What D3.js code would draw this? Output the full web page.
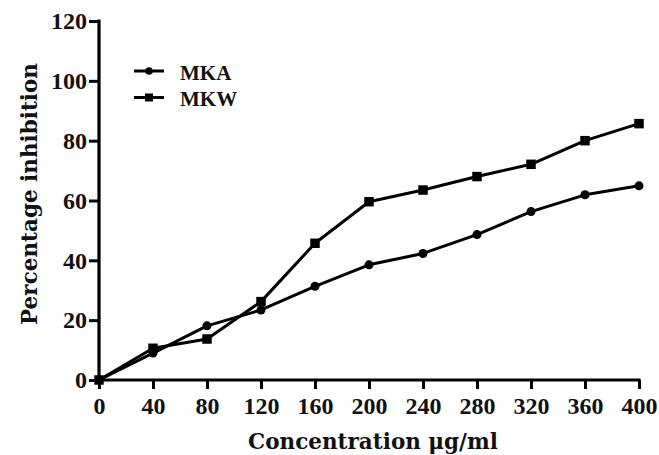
<!DOCTYPE html>
<html>
<head>
<meta charset="utf-8">
<script src="https://cdn.jsdelivr.net/npm/d3@7"></script>
<style>
  body { margin: 0; background: #fff; }
  svg { display: block; }
  text { font-weight: bold; fill: #111; }
  .title { font-family: "DejaVu Serif", serif; }
  .num { font-family: "Liberation Serif", serif; }
</style>
</head>
<body>
<svg id="chart" width="659" height="455"></svg>
<script>
// Concentration (µg/ml) and percentage inhibition for both extracts
const concentrations = [0, 40, 80, 120, 160, 200, 240, 280, 320, 360, 400];
const mkaValues = [0, 9.0, 18.1, 23.4, 31.3, 38.5, 42.3, 48.6, 56.3, 61.9, 64.9];
const mkwValues = [0, 10.6, 13.7, 26.2, 45.7, 59.6, 63.5, 68.0, 72.1, 80.0, 85.7];
const seriesNames = ["MKA", "MKW"];
const xTicks = [0, 40, 80, 120, 160, 200, 240, 280, 320, 360, 400];
const yTicks = [0, 20, 40, 60, 80, 100, 120];

const svg = d3.select("#chart");
const margin = { left: 99, right: 20, top: 21, bottom: 75 };
const W = 659, H = 455;

const x = d3.scaleLinear().domain([0, 400]).range([margin.left, W - margin.right]);
const y = d3.scaleLinear().domain([0, 120]).range([H - margin.bottom, margin.top]);

const ink = "#000";

// Axes
const xAxis = svg.append("g")
  .attr("transform", `translate(0,${y(0)})`)
  .call(d3.axisBottom(x).tickValues(xTicks).tickSize(9).tickPadding(8).tickSizeOuter(0));
const yAxis = svg.append("g")
  .attr("transform", `translate(${x(0)},0)`)
  .call(d3.axisLeft(y).tickValues(yTicks).tickSize(10).tickPadding(2).tickSizeOuter(0));

[xAxis, yAxis].forEach(g => {
  g.attr("font-family", null).attr("font-size", null);
  g.select(".domain").attr("stroke", ink).attr("stroke-width", 3.2);
  g.selectAll(".tick line").attr("stroke", ink).attr("stroke-width", 3);
  g.selectAll(".tick text").attr("class", "num").style("font-size", "24px").attr("fill", "#111");
});
xAxis.select(".domain").attr("d", `M${x(0) - 1.6},0H${x(400) + 1.5}`);
yAxis.select(".domain").attr("d", `M0,${y(0) + 1.6}V${y(120) - 1.5}`);

// Axis titles
svg.append("text")
  .attr("class", "title")
  .attr("x", 373)
  .attr("y", 449)
  .attr("text-anchor", "middle")
  .style("font-size", "21.5px")
  .text("Concentration μg/ml");

svg.append("text")
  .attr("class", "title")
  .attr("transform", "translate(37,194) rotate(-90)")
  .attr("text-anchor", "middle")
  .style("font-size", "21.5px")
  .text("Percentage inhibition");

// Lines and markers
const line = d3.line().x(d => x(d[0])).y(d => y(d[1]));
const mka = concentrations.map((c, i) => [c, mkaValues[i]]);
const mkw = concentrations.map((c, i) => [c, mkwValues[i]]);

function drawSeries(data, shape) {
  svg.append("path").datum(data)
    .attr("d", line)
    .attr("fill", "none")
    .attr("stroke", ink)
    .attr("stroke-width", 3)
    .attr("stroke-linejoin", "round");
  const sym = d3.symbol().type(shape === "circle" ? d3.symbolCircle : d3.symbolSquare)
    .size(shape === "circle" ? 64 : 90);
  svg.append("g").selectAll("path").data(data).join("path")
    .attr("transform", d => `translate(${x(d[0])},${y(d[1])})`)
    .attr("d", sym)
    .attr("fill", ink);
}
drawSeries(mka, "circle");
drawSeries(mkw, "square");

// Legend
const legend = svg.append("g");
[["circle", 71], ["square", 97.5]].forEach(([shape, ly], i) => {
  legend.append("line")
    .attr("x1", 134).attr("x2", 164).attr("y1", ly).attr("y2", ly)
    .attr("stroke", ink).attr("stroke-width", 3);
  legend.append("path")
    .attr("transform", `translate(149,${ly})`)
    .attr("d", d3.symbol().type(shape === "circle" ? d3.symbolCircle : d3.symbolSquare)
      .size(shape === "circle" ? 45 : 64))
    .attr("fill", ink);
  legend.append("text")
    .attr("class", "num")
    .attr("x", 180).attr("y", ly + 8.5)
    .style("font-size", "21px")
    .text(seriesNames[i]);
});
</script>
</body>
</html>
